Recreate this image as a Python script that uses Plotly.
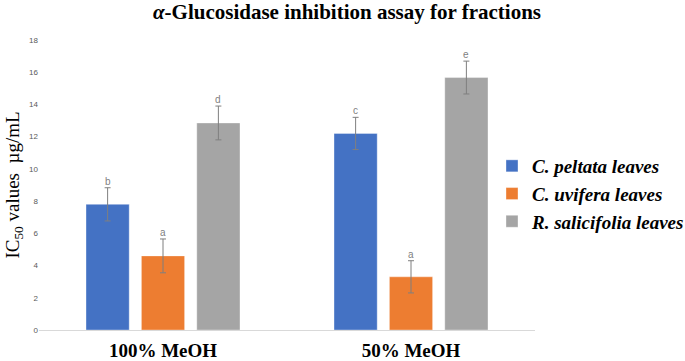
import plotly.graph_objects as go

groups = ["100% MeOH", "50% MeOH"]
series_names = ["C. peltata leaves", "C. uvifera leaves", "R. salicifolia leaves"]
peltata = [7.8, 12.2]
uvifera = [4.6, 3.3]
salicifolia = [12.85, 15.67]
peltata_err = [1.03, 1.0]
uvifera_err = [1.05, 1.0]
salicifolia_err = [1.05, 1.02]
peltata_letters = ["b", "c"]
uvifera_letters = ["a", "a"]
salicifolia_letters = ["d", "e"]
y_ticks = [0, 2, 4, 6, 8, 10, 12, 14, 16, 18]

colors = ["#4472C4", "#ED7D31", "#A5A5A5"]
values = [peltata, uvifera, salicifolia]
errors = [peltata_err, uvifera_err, salicifolia_err]
letters = [peltata_letters, uvifera_letters, salicifolia_letters]

W, H = 685, 361
ML, MR, MT, MB = 39, 150, 40, 31
plot_w = W - ML - MR
bargap = 0.33
bargroupgap = 0.22

fig = go.Figure()
for name, vals, errs, col in zip(series_names, values, errors, colors):
    fig.add_trace(go.Bar(
        name=name, x=list(range(len(groups))), y=vals,
        marker=dict(color=col, line=dict(color="rgba(255,255,255,0.35)", width=1)),
        error_y=dict(type="data", array=errs, visible=True,
                     color="#7f7f7f", thickness=1, width=3),
    ))

# letter annotations above error bars
cat_px = plot_w / len(groups)
slot_px = cat_px * (1 - bargap) / len(series_names)
for si, (vals, errs, labs) in enumerate(zip(values, errors, letters)):
    shift = (si - (len(series_names) - 1) / 2) * slot_px
    for gi, (v, e, lab) in enumerate(zip(vals, errs, labs)):
        fig.add_annotation(x=gi, y=v + e, xref="x", yref="y", text=lab,
                           showarrow=False, xshift=shift, yanchor="bottom",
                           yshift=-1,
                           font=dict(family="Liberation Sans", size=10, color="#7f7f7f"))

fig.update_layout(
    width=W, height=H,
    margin=dict(l=ML, r=MR, t=MT, b=MB, autoexpand=False),
    paper_bgcolor="white", plot_bgcolor="white",
    barmode="group", bargap=bargap, bargroupgap=bargroupgap,
    title=dict(text="<i>α</i>-Glucosidase inhibition assay for fractions",
               x=347 / W, xref="container", xanchor="center",
               y=1 - 12 / H, yref="container", yanchor="middle",
               font=dict(family="Liberation Serif", size=21, color="black", weight="bold")),
    showlegend=True,
    legend=dict(x=(492 - ML) / plot_w, xanchor="left", y=(H - MB - 147) / (H - MT - MB), yanchor="top",
                font=dict(family="Liberation Serif", size=19, color="black", weight="bold", style="italic"),
                bgcolor="rgba(0,0,0,0)", itemwidth=30, tracegroupgap=0),
    xaxis=dict(tickmode="array", tickvals=list(range(len(groups))), ticktext=groups,
               range=[-0.5, len(groups) - 0.5],
               showline=True, linecolor="#d9d9d9", linewidth=1, showgrid=False,
               ticks="", ticklabelstandoff=3, zeroline=False,
               tickfont=dict(family="Liberation Serif", size=19, color="black", weight="bold")),
    yaxis=dict(range=[0, 18], tickmode="array", tickvals=y_ticks,
               showgrid=False, zeroline=False, showline=False, ticks="",
               tickfont=dict(family="Liberation Sans", size=8, color="#595959"),
               automargin=False,
               title=dict(text="IC<sub>50</sub> values  µg/mL", standoff=4,
                          font=dict(family="Liberation Serif", size=19, color="black"))),
)

fig.write_html("out.html", config={"displayModeBar": False},
               post_script="document.body.style.margin='0';")
